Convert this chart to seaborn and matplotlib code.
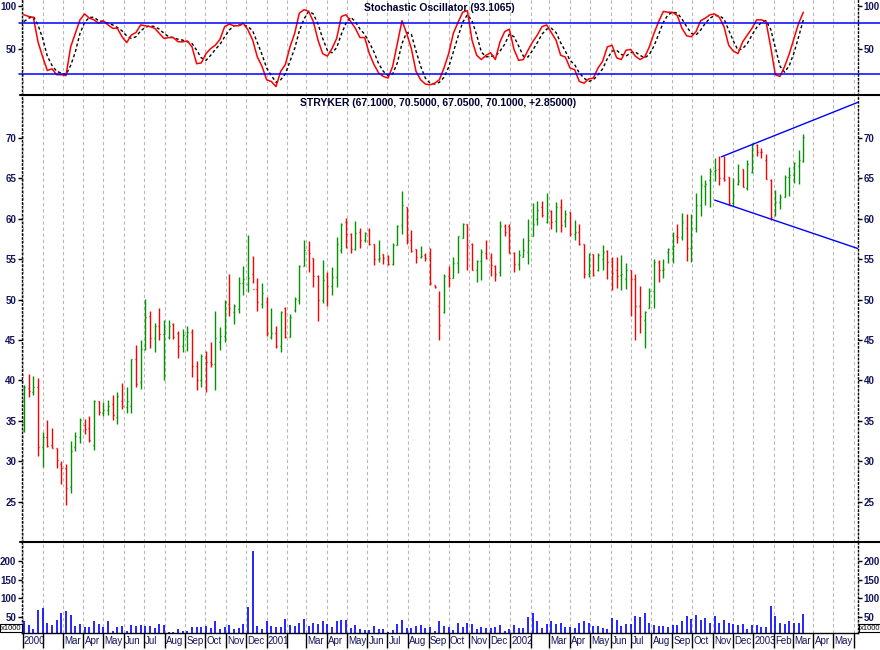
import numpy as np
import pandas as pd
import seaborn as sns
import matplotlib
matplotlib.use("Agg")
import matplotlib.pyplot as plt
import matplotlib.dates as mdates
from matplotlib.lines import Line2D
from matplotlib.transforms import ScaledTranslation

# Stryker weekly bars, Jan 2000 - Mar 2003
opens = [34.9, 39.0, 38.5, 39.2, 31.8, 33.0, 32.0, 31.6, 29.6, 29.2,
         26.8, 31.7, 33.0, 34.5, 34.1, 32.0, 37.4, 36.0, 36.3, 37.1,
         35.5, 37.5, 36.7, 36.8, 42.7, 39.8, 43.9, 48.0, 45.2, 46.7,
         45.7, 45.4, 47.0, 45.9, 44.2, 45.5, 46.0, 41.8, 40.0, 42.8,
         42.3, 42.0, 44.7, 45.5, 49.5, 48.5, 48.8, 52.0, 51.9, 53.1,
         51.3, 49.4, 49.7, 45.3, 45.9, 44.2, 48.9, 45.4, 48.7, 50.0,
         54.1, 56.1, 55.1, 52.9, 49.9, 52.9, 51.7, 52.8, 56.1, 59.6,
         58.1, 56.3, 58.4, 57.4, 58.6, 56.9, 55.0, 55.6, 55.4, 54.4,
         56.7, 59.2, 61.4, 57.3, 56.2, 55.2, 55.5, 55.4, 51.8, 49.2,
         48.4, 52.9, 52.7, 54.5, 57.6, 59.3, 56.9, 53.7, 54.8, 55.7,
         55.3, 54.2, 53.4, 59.1, 59.1, 55.8, 54.4, 55.3, 55.9, 57.8,
         60.0, 61.4, 59.6, 60.9, 59.7, 61.4, 59.7, 60.8, 58.1, 58.4,
         56.9, 53.1, 55.6, 53.6, 55.0, 56.0, 54.7, 53.7, 53.0, 52.5,
         53.7, 52.5, 49.2, 47.5, 49.0, 51.0, 54.7, 53.6, 55.9, 56.3,
         57.8, 57.7, 58.8, 56.4, 58.8, 61.7, 64.1, 64.8, 65.9, 66.2,
         65.0, 65.1, 61.9, 64.3, 66.2, 63.8, 65.8, 69.1, 68.3, 67.3,
         64.8, 60.6, 62.1, 62.7, 65.1, 65.4, 66.5, 67.1]
highs = [39.4, 40.8, 40.5, 40.3, 33.6, 35.1, 34.1, 31.6, 30.0, 29.7,
         32.5, 33.6, 35.4, 35.2, 35.6, 37.6, 37.5, 37.3, 37.6, 38.2,
         38.6, 39.7, 39.2, 42.7, 44.4, 45.0, 50.1, 48.6, 47.1, 48.9,
         47.5, 47.5, 47.1, 46.1, 46.3, 46.7, 46.3, 42.4, 43.2, 43.6,
         44.8, 48.6, 46.6, 49.9, 53.1, 49.5, 52.8, 54.2, 58.0, 55.4,
         52.6, 52.0, 50.3, 48.9, 46.7, 48.6, 49.1, 48.2, 50.3, 54.3,
         57.3, 57.2, 55.1, 53.0, 54.9, 53.4, 54.0, 57.7, 59.5, 60.1,
         58.2, 59.7, 58.9, 58.3, 58.9, 56.9, 57.3, 55.6, 55.5, 57.0,
         59.2, 63.4, 61.4, 58.6, 56.2, 56.6, 55.7, 56.4, 51.8, 51.0,
         53.1, 54.1, 55.2, 57.8, 59.5, 59.4, 57.0, 54.9, 56.2, 57.3,
         55.8, 54.3, 59.7, 59.3, 59.3, 55.9, 56.1, 57.6, 60.0, 62.0,
         62.2, 62.2, 63.2, 61.1, 62.1, 62.4, 61.1, 60.8, 59.8, 59.4,
         56.9, 55.7, 55.6, 55.7, 56.7, 56.1, 55.2, 55.2, 55.5, 54.5,
         53.7, 53.1, 51.7, 48.6, 51.4, 55.0, 54.9, 55.0, 56.4, 58.4,
         59.4, 60.7, 60.6, 60.6, 63.2, 65.4, 64.8, 66.3, 67.5, 67.7,
         67.7, 65.1, 65.0, 66.8, 66.2, 67.3, 69.3, 69.2, 68.8, 68.0,
         64.9, 63.5, 63.0, 65.4, 66.4, 67.0, 68.5, 70.5]
lows = [33.6, 38.0, 38.2, 30.6, 29.3, 31.8, 31.6, 29.1, 27.2, 24.6,
        26.1, 31.3, 32.3, 33.4, 32.4, 31.4, 35.7, 35.6, 35.7, 35.1,
        34.6, 36.4, 36.0, 36.0, 39.2, 38.9, 43.8, 44.0, 43.5, 45.0,
        40.1, 45.1, 45.1, 42.8, 43.5, 43.6, 40.4, 38.8, 39.2, 38.6,
        41.7, 38.8, 43.8, 44.8, 47.9, 47.0, 48.3, 50.6, 50.9, 52.0,
        48.6, 48.9, 45.5, 45.1, 44.0, 43.5, 45.2, 45.3, 48.5, 49.5,
        54.1, 53.4, 51.6, 47.3, 49.6, 49.2, 50.5, 51.6, 55.8, 56.4,
        55.8, 56.1, 56.4, 57.1, 56.7, 54.3, 54.7, 54.4, 54.3, 54.3,
        56.7, 58.1, 56.9, 55.9, 54.5, 55.1, 54.8, 51.8, 51.4, 45.0,
        48.3, 51.5, 52.6, 53.3, 57.6, 53.6, 53.6, 52.2, 52.4, 55.0,
        52.9, 52.3, 52.9, 57.8, 55.7, 53.4, 53.6, 55.3, 54.4, 57.8,
        59.2, 60.2, 59.5, 58.7, 58.4, 58.3, 59.0, 57.8, 57.3, 56.7,
        52.7, 52.8, 52.9, 53.5, 53.6, 52.5, 51.2, 51.4, 51.2, 51.3,
        48.0, 45.0, 45.9, 44.0, 48.9, 49.0, 52.2, 52.6, 54.5, 54.5,
        57.0, 57.3, 54.8, 54.7, 58.3, 60.3, 61.7, 61.4, 64.7, 64.2,
        64.6, 61.7, 61.6, 64.2, 63.9, 63.6, 65.7, 67.7, 67.5, 64.9,
        59.8, 60.3, 61.2, 62.7, 62.8, 64.4, 64.3, 67.05]
closes = [39.2, 38.7, 39.2, 31.7, 33.0, 31.9, 31.6, 30.1, 29.1, 26.7,
          31.3, 33.1, 35.1, 34.0, 32.6, 37.4, 36.1, 36.3, 36.8, 35.7,
          38.1, 36.8, 37.4, 42.7, 39.6, 43.9, 47.8, 45.2, 46.7, 45.7,
          46.2, 46.7, 45.3, 44.2, 45.6, 46.0, 41.8, 40.0, 43.0, 42.3,
          42.0, 45.2, 45.5, 49.7, 48.9, 49.2, 52.1, 52.5, 52.7, 51.3,
          49.7, 50.8, 45.9, 45.9, 44.2, 48.5, 45.4, 47.8, 50.1, 54.1,
          56.1, 55.8, 52.9, 49.9, 52.4, 51.7, 52.8, 56.9, 59.4, 58.1,
          56.3, 58.2, 57.4, 58.2, 56.9, 55.0, 55.1, 55.1, 54.4, 56.7,
          59.1, 61.7, 57.6, 56.0, 55.2, 55.4, 55.1, 52.1, 51.5, 46.8,
          52.9, 52.7, 54.5, 57.8, 59.3, 56.7, 53.7, 54.8, 55.9, 55.1,
          54.3, 53.2, 59.1, 58.4, 55.8, 54.4, 55.5, 56.1, 57.4, 59.3,
          61.1, 60.4, 60.7, 59.6, 61.4, 59.2, 60.6, 58.1, 58.3, 56.9,
          53.1, 55.5, 53.0, 55.5, 55.9, 54.7, 53.3, 52.9, 53.2, 53.7,
          52.5, 49.2, 47.9, 48.5, 51.0, 54.7, 53.6, 53.8, 56.3, 56.6,
          57.7, 59.6, 56.4, 58.8, 61.7, 64.2, 64.3, 65.9, 66.0, 65.0,
          64.8, 61.9, 62.9, 64.6, 63.9, 66.8, 69.1, 68.3, 68.2, 64.9,
          60.2, 62.1, 62.7, 65.1, 65.4, 66.9, 67.2, 70.1]
# weekly volume, x1000
volume = [41, 30, 19, 69, 75, 35, 30, 43, 61, 68,
          56, 27, 32, 23, 24, 40, 32, 24, 39, 15,
          24, 27, 15, 30, 27, 30, 27, 27, 21, 32,
          30, 11, 11, 19, 14, 15, 23, 23, 23, 27,
          22, 41, 19, 24, 30, 18, 22, 32, 77, 226,
          27, 20, 41, 28, 24, 24, 46, 30, 28, 36,
          46, 27, 35, 32, 39, 32, 24, 39, 43, 43,
          22, 30, 19, 16, 16, 27, 19, 19, 11, 16,
          32, 43, 22, 22, 27, 30, 22, 24, 14, 40,
          27, 25, 16, 34, 24, 34, 32, 18, 24, 22,
          22, 24, 30, 15, 19, 29, 22, 22, 50, 61,
          40, 22, 32, 40, 32, 34, 24, 24, 22, 34,
          40, 34, 27, 27, 22, 19, 48, 43, 27, 32,
          32, 54, 52, 62, 36, 30, 27, 27, 25, 30,
          30, 40, 54, 46, 56, 43, 48, 36, 54, 36,
          43, 34, 32, 30, 32, 19, 30, 30, 24, 24,
          80, 54, 35, 32, 39, 35, 35, 59]
# stochastic oscillator %K (red) and %D (dashed)
stoch_k = [90, 88, 87, 58, 40, 24, 26, 19, 19, 18,
           52, 68, 84, 91, 86, 84, 80, 83, 78, 74,
           74, 64, 57, 66, 69, 78, 77, 76, 74, 68,
           62, 63, 63, 58, 58, 59, 52, 32, 33, 44,
           50, 54, 61, 76, 79, 77, 77, 80, 72, 60,
           40, 29, 13, 11, 5, 23, 31, 52, 68, 92,
           96, 94, 82, 60, 44, 41, 50, 62, 88, 90,
           82, 74, 63, 63, 44, 31, 21, 17, 15, 29,
           56, 83, 68, 50, 23, 13, 8, 7, 9, 13,
           27, 44, 68, 81, 93, 95, 60, 42, 37, 42,
           45, 37, 58, 70, 73, 49, 36, 37, 48, 58,
           66, 76, 78, 69, 60, 42, 40, 27, 25, 11,
           9, 14, 15, 27, 35, 52, 54, 39, 37, 48,
           49, 41, 37, 40, 52, 68, 82, 94, 93, 93,
           89, 74, 65, 64, 70, 83, 86, 90, 91, 87,
           76, 54, 47, 44, 58, 66, 74, 84, 84, 82,
           52, 19, 17, 29, 44, 62, 80, 93]
stoch_d = [82, 86, 88, 78, 62, 41, 30, 23, 21, 19,
           30, 46, 68, 81, 87, 87, 83, 82, 80, 78,
           75, 71, 65, 62, 64, 71, 75, 77, 76, 73,
           68, 64, 63, 61, 60, 58, 56, 48, 39, 36,
           42, 49, 55, 64, 72, 77, 78, 78, 76, 71,
           57, 43, 27, 18, 10, 13, 20, 35, 50, 71,
           85, 94, 91, 79, 62, 48, 45, 51, 67, 80,
           87, 82, 73, 67, 57, 46, 32, 23, 18, 20,
           33, 56, 69, 67, 47, 29, 15, 9, 8, 10,
           16, 28, 46, 64, 81, 90, 83, 66, 46, 40,
           41, 41, 47, 55, 67, 64, 53, 41, 40, 48,
           57, 67, 73, 74, 69, 57, 47, 36, 31, 21,
           15, 11, 13, 19, 26, 38, 47, 48, 43, 41,
           45, 46, 42, 39, 43, 53, 67, 81, 90, 93,
           92, 85, 76, 68, 66, 72, 80, 86, 89, 89,
           85, 72, 59, 48, 50, 56, 66, 75, 81, 83,
           73, 51, 29, 22, 30, 45, 64, 84]

# hand-drawn trend lines (start date/value -> right edge)
upper_dates = ["2002-11-14", "2003-06-07"]
upper_vals = [67.65, 74.4]
lower_dates = ["2002-11-04", "2003-06-07"]
lower_vals = [62.3, 56.3]

month_labels = ["2000", "", "Mar", "Apr", "May", "Jun", "Jul", "Aug", "Sep", "Oct", "Nov", "Dec",
                "2001", "", "Mar", "Apr", "May", "Jun", "Jul", "Aug", "Sep", "Oct", "Nov", "Dec",
                "2002", "", "Mar", "Apr", "May", "Jun", "Jul", "Aug", "Sep", "Oct", "Nov", "Dec",
                "2003", "Feb", "Mar", "Apr", "May", ""]

sns.set_style("white")
plt.rcParams["font.family"] = ["Liberation Sans", "DejaVu Sans"]

weeks = pd.date_range("2000-01-03", periods=len(closes), freq="7D")
df = pd.DataFrame({"x": mdates.date2num(weeks), "open": opens, "high": highs,
                   "low": lows, "close": closes, "vol": volume,
                   "k": stoch_k, "d": stoch_d})

GREEN, RED, BLUE = "#009400", "#ff0000", "#0000ff"
NAVY = "#14145a"
W, H = 880, 650

fig = plt.figure(figsize=(8.8, 6.5), dpi=100)


def panel(top, bottom):
    return fig.add_axes([22 / W, 1 - bottom / H, 836 / W, (bottom - top) / H])


ax_st = panel(0, 95)
ax_pr = panel(95, 542)
ax_vo = panel(542, 633)

xmin = mdates.date2num(pd.Timestamp("1999-12-31"))
xmax = mdates.date2num(pd.Timestamp("2003-06-07"))
months = mdates.date2num(pd.date_range("2000-01-01", "2003-06-01", freq="MS"))

for ax in (ax_st, ax_pr, ax_vo):
    ax.set_xlim(xmin, xmax)
    ax.set_xticks(months)
    ax.grid(True, axis="x", color="#b8b8b8", linewidth=0.8, linestyle=(0, (3, 2.5)))
    ax.grid(False, axis="y")
    for s in ("left", "right"):
        ax.spines[s].set_linestyle((0, (1, 1.8)))
        ax.spines[s].set_linewidth(1.0)
        ax.spines[s].set_color("black")
    ax.spines["top"].set_visible(False)
    ax.spines["bottom"].set_visible(False)
    ax.tick_params(axis="y", left=True, right=True, labelleft=True, labelright=True,
                   length=3, width=1, pad=1.2, labelsize=7, labelcolor=NAVY,
                   color="black", direction="out")
    ax.set_facecolor("white")

for ax in (ax_st, ax_pr):
    ax.tick_params(axis="x", bottom=False, labelbottom=False)

# --- stochastic panel
sns.lineplot(data=df, x="x", y="d", ax=ax_st, color="black", lw=1.0,
             ls=(0, (2.2, 1.8)))
sns.lineplot(data=df, x="x", y="k", ax=ax_st, color=RED, lw=1.1)
ax_st.set_ylim(-5, 107.5)
ax_st.set_yticks([50, 100], ["50", "100"], fontweight="bold")
for lvl in (80, 20):
    ax_st.axhline(lvl, xmin=-0.003, xmax=1.03, color=BLUE, lw=1.1, clip_on=False)
ax_st.set_xlabel("")
ax_st.set_ylabel("")

# --- price panel (OHLC bars)
colors = np.where(df["close"] >= df["open"], GREEN, RED)
tick = 1.6
ax_pr.vlines(df["x"], df["low"], df["high"], colors=colors, lw=1.0)
ax_pr.hlines(df["open"], df["x"] - tick, df["x"], colors=colors, lw=1.0)
ax_pr.hlines(df["close"], df["x"], df["x"] + tick, colors=colors, lw=1.0)
ax_pr.plot(mdates.date2num(pd.to_datetime(upper_dates)), upper_vals, color=BLUE, lw=1.0)
ax_pr.plot(mdates.date2num(pd.to_datetime(lower_dates)), lower_vals, color=BLUE, lw=1.0)
ax_pr.set_ylim(20.0, 75.3)
price_ticks = list(range(25, 75, 5))
ax_pr.set_yticks(price_ticks, [str(t) for t in price_ticks], fontweight="bold")

# --- volume panel
ax_vo.vlines(df["x"], 0, df["vol"], colors=BLUE, lw=1.2)
ax_vo.set_ylim(8.4, 249.6)
vol_ticks = [50, 100, 150, 200]
ax_vo.set_yticks(vol_ticks, [str(t) for t in vol_ticks], fontweight="bold")
ax_vo.spines["bottom"].set_visible(True)
ax_vo.spines["bottom"].set_color("black")
ax_vo.spines["bottom"].set_linewidth(1.0)
ax_vo.set_xticks(months, month_labels)
ax_vo.tick_params(axis="x", bottom=True, length=11, width=1, color="black",
                  direction="out", pad=-9, labelsize=7.0, labelcolor=NAVY)
shift = ScaledTranslation(1.2 / 100, 0, fig.dpi_scale_trans)
for lab in ax_vo.get_xticklabels():
    lab.set_horizontalalignment("left")
    lab.set_transform(lab.get_transform() + shift)

# separators between panels
for yy in (95, 542):
    fig.add_artist(Line2D([20 / W, 1.0], [1 - yy / H] * 2, color="black", lw=1.5,
                          transform=fig.transFigure))

# titles
fig.text(439 / W, 1 - 8 / H, "Stochastic Oscillator (93.1065)", ha="center", va="center",
         fontsize=7.5, fontweight="bold", color="#000030")
fig.text(438 / W, 1 - 103 / H, "STRYKER (67.1000, 70.5000, 67.0500, 70.1000, +2.85000)",
         ha="center", va="center", fontsize=7.5, fontweight="bold", color="#000030")

# volume scale boxes
box = dict(boxstyle="square,pad=0.1", fc="white", ec="black", lw=0.8)
fig.text(1 / W, 1 - 628 / H, "x1000", ha="left", va="center", fontsize=5.5,
         color="black", bbox=box)
fig.text(859.5 / W, 1 - 628 / H, "x1000", ha="left", va="center", fontsize=5.5,
         color="black", bbox=box)

fig.savefig("out.png", dpi=100)
